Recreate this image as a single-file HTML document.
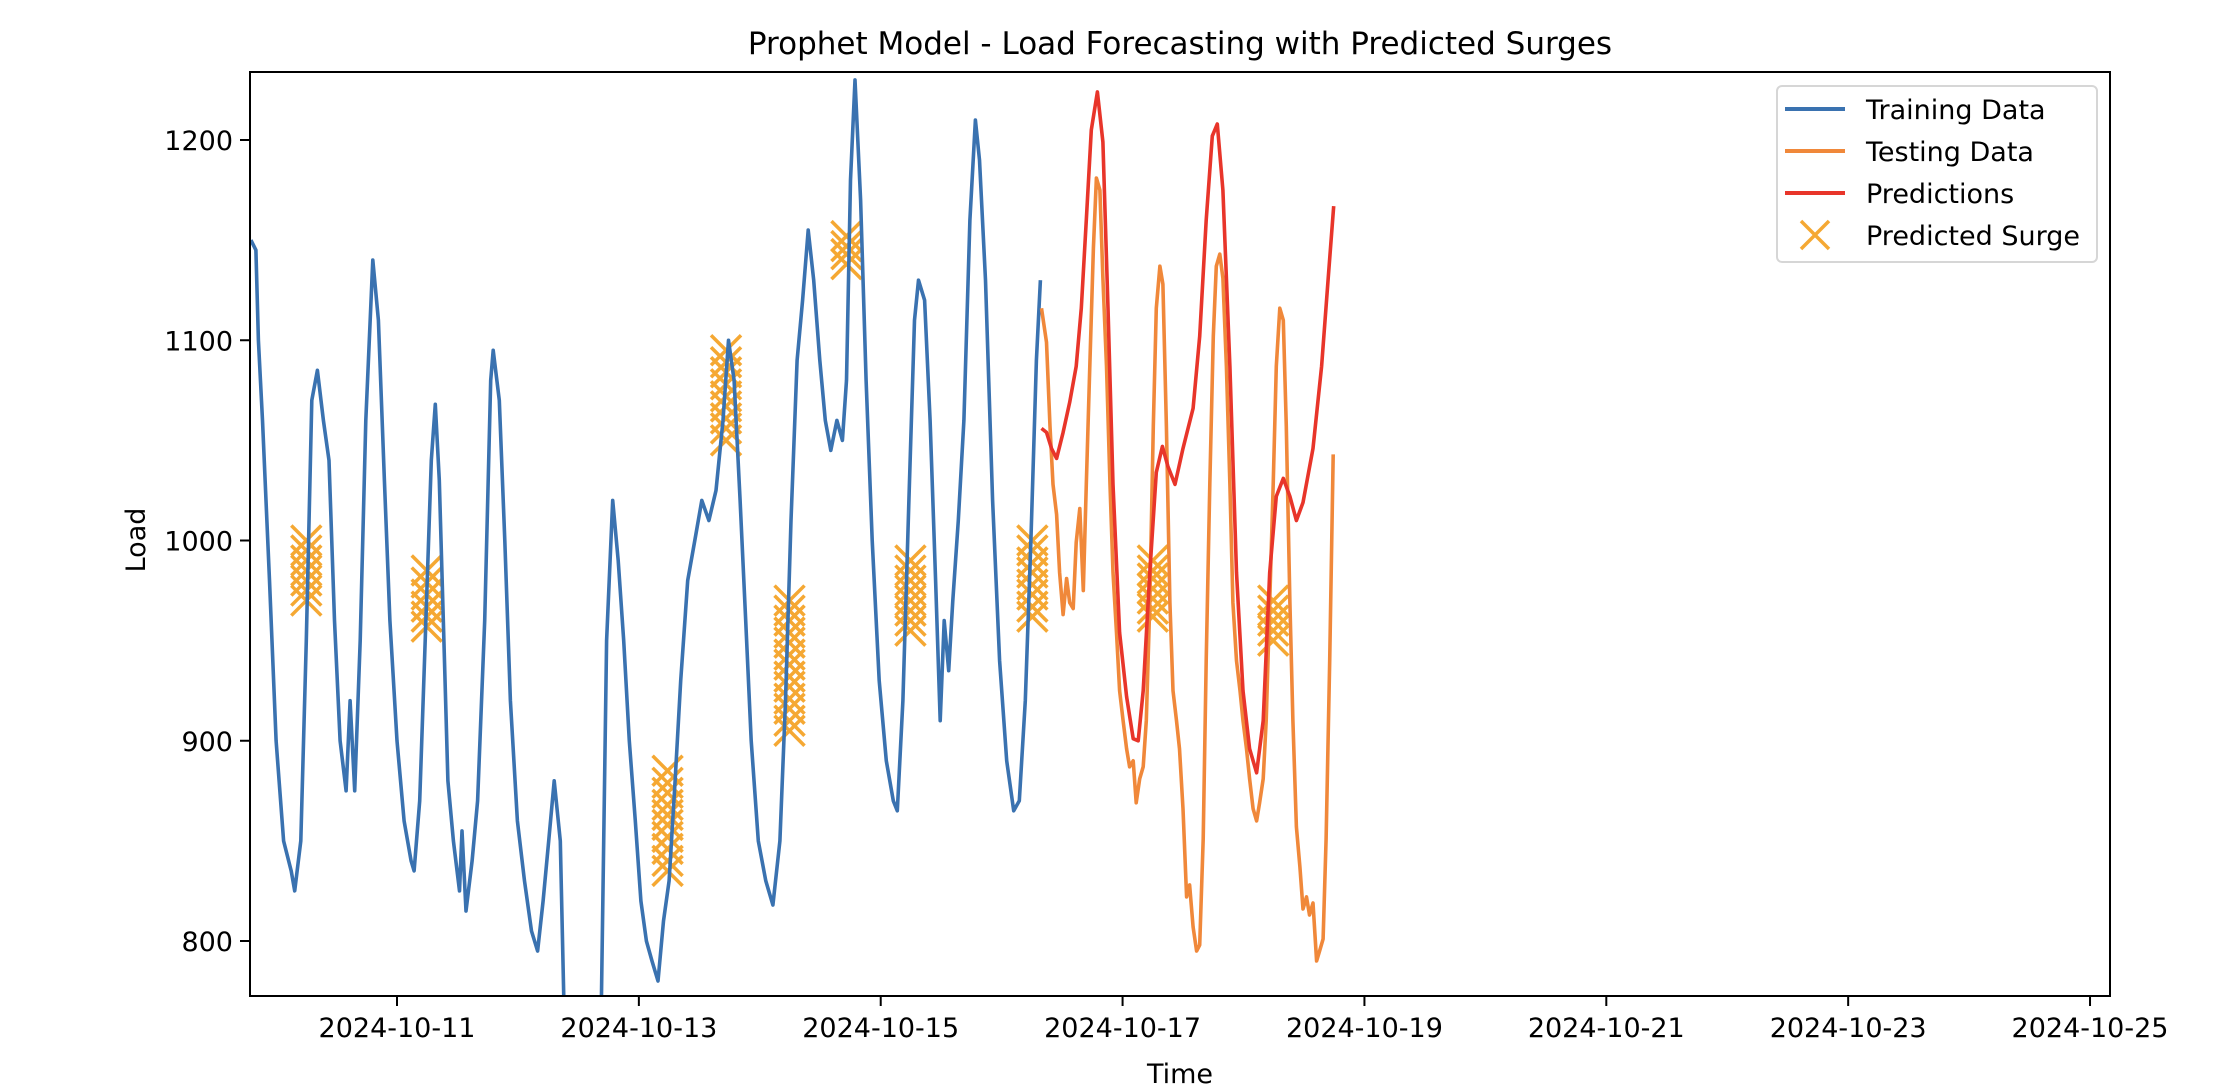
<!DOCTYPE html>
<html><head><meta charset="utf-8"><style>
html,body{margin:0;padding:0;background:#fff;}
svg text{font-family:"DejaVu Sans","Liberation Sans",sans-serif;fill:#000;}
</style></head><body>
<svg id="chart" width="2224" height="1086" viewBox="0 0 2224 1086" xmlns="http://www.w3.org/2000/svg">
<rect x="0" y="0" width="2224" height="1086" fill="#fff"/>
<text x="1180" y="54" font-size="31" text-anchor="middle">Prophet Model - Load Forecasting with Predicted Surges</text>
<defs><clipPath id="plotclip"><rect x="250" y="72" width="1860" height="924"/></clipPath></defs>
<g id="surges" clip-path="url(#plotclip)"></g>
<g id="lines" clip-path="url(#plotclip)"></g>
<g id="axes"></g>
<text x="1180" y="1083" font-size="27" text-anchor="middle">Time</text>
<text x="0" y="0" font-size="27" text-anchor="middle" transform="translate(145,540) rotate(-90)">Load</text>
<g>
<rect x="1777" y="86" width="320" height="176" rx="5" fill="#fff" stroke="#d6d6d6" stroke-width="2"/>
<line x1="1785" y1="109" x2="1845" y2="109" stroke="#3a72b0" stroke-width="4"/>
<text x="1866" y="119" font-size="27">Training Data</text>
<line x1="1785" y1="151" x2="1845" y2="151" stroke="#f0883a" stroke-width="4"/>
<text x="1866" y="161" font-size="27">Testing Data</text>
<line x1="1785" y1="193" x2="1845" y2="193" stroke="#e8352a" stroke-width="4"/>
<text x="1866" y="203" font-size="27">Predictions</text>
<path d="M1801 221 L1829 249 M1829 221 L1801 249" stroke="#f5a833" stroke-width="3.5"/>
<text x="1866" y="245" font-size="27">Predicted Surge</text>
</g>
</svg>
<script>
// hours since 2024-10-10 00:00
const trainHours = [-5,-4,-3.5,-2.7,-1.3,0,1.5,3,3.7,4.9,6,7.1,8.2,9.4,10.5,11.6,12.7,13.9,14.7,15.6,16.7,17.8,19.2,20.3,21.5,22.6,24,25.4,26.8,27.4,28.5,29.6,30.8,31.6,32.4,33.3,34.1,35.2,36.4,36.9,37.7,38.9,40,41.4,42.6,43.1,44.3,45.4,46.5,47.9,49.3,50.7,51.9,53,54.1,55.2,56.4,57.2,61,64.5,65.6,66.8,67.9,69,70.1,71.3,72.4,73.5,74.6,75.8,76.9,78,79.2,80.3,81.7,83.1,84.5,85.9,87.3,88.7,89.8,90.9,92.1,93.2,94.3,95.7,97.2,98.6,100,101.1,102.2,103.4,104.5,105.6,106.7,107.9,109,110.1,111.3,112.4,113.2,114,114.9,116,117.1,118.3,119.7,121.1,122.5,123.3,124.4,125.6,126.7,127.5,128.7,129.8,130.9,131.8,132.6,133.5,134.3,135.4,136.5,137.7,138.8,139.6,140.8,142.2,143.6,145,146.4,147.5,148.7,149.8,150.9,151.7];
const trainValues = [1150,1145,1100,1060,980,900,850,835,825,850,950,1070,1085,1060,1040,960,900,875,920,875,950,1060,1140,1110,1030,960,900,860,840,835,870,950,1040,1068,1030,950,880,850,825,855,815,840,870,960,1080,1095,1070,1000,920,860,830,805,795,820,850,880,850,760,700,760,950,1020,990,950,900,860,820,800,790,780,810,830,880,930,980,1000,1020,1010,1025,1060,1100,1080,1020,960,900,850,830,818,850,920,1010,1090,1120,1155,1130,1090,1060,1045,1060,1050,1080,1180,1230,1170,1080,1000,930,890,870,865,920,1020,1110,1130,1120,1060,980,910,960,935,970,1010,1060,1160,1210,1190,1130,1020,940,890,865,870,920,1000,1090,1130];
const testHours = [151.9,152.9,153.6,154.2,154.9,155.5,156.2,156.9,157.5,158.2,158.8,159.5,160.2,160.8,161.5,162.2,162.8,163.5,164.1,164.8,165.5,166.1,166.8,167.4,168.1,168.8,169.4,170.1,170.7,171.4,172.1,172.7,173.4,174.1,174.7,175.4,176,176.7,177.4,178,178.7,179.3,180,180.7,181.3,182,182.7,183.3,184,184.6,185.3,186,186.6,187.3,187.9,188.6,189.3,189.9,190.6,191.3,191.9,192.6,193.2,193.9,194.6,195.2,195.9,196.5,197.2,197.9,198.5,199.2,199.9,200.5,201.2,201.8,202.5,203.2,203.8,204.5,205.1,205.8,206.5,207.1,207.8,208.4,209.1,209.8];
const testValues = [1116,1099,1057,1028,1013,984,963,981,969,966,999,1016,975,1028,1087,1146,1181,1175,1131,1087,1028,984,954,925,910,896,887,890,869,881,887,910,969,1057,1116,1137,1128,1057,969,925,910,896,866,822,828,807,795,798,851,940,1028,1102,1137,1143,1131,1087,1028,969,940,925,910,896,881,866,860,869,881,910,969,1028,1087,1116,1110,1057,969,910,857,837,816,822,813,819,790,795,801,851,940,1043];
const predHours = [151.9,152.9,153.9,154.9,156.2,157.5,158.8,159.8,160.8,161.8,163,164.1,165.1,166.1,167.4,168.8,170.1,171.1,172.1,173.4,174.7,175.9,177,178.4,180,182,183.3,184.6,185.8,186.8,187.9,189.3,190.6,191.9,193.2,194.6,195.9,197.2,198.5,199.9,201.2,202.5,203.8,205.8,207.5,208.8,209.9];
const predValues = [1056,1054,1046,1041,1054,1069,1087,1116,1160,1205,1224,1199,1116,1028,954,922,901,900,925,984,1034,1047,1037,1028,1046,1066,1102,1160,1202,1208,1175,1087,984,925,896,884,910,984,1022,1031,1022,1010,1019,1046,1087,1131,1167];
const surgeHours = [6,6,6,6,6,6,6,29.9,29.9,29.9,29.9,29.9,29.9,77.7,77.7,77.7,77.7,77.7,77.7,77.7,77.7,77.7,77.7,89.3,89.3,89.3,89.3,89.3,89.3,89.3,89.3,89.3,101.9,101.9,101.9,101.9,101.9,101.9,101.9,101.9,101.9,101.9,101.9,101.9,101.9,113.2,113.2,113.2,113.2,125.9,125.9,125.9,125.9,125.9,125.9,125.9,125.9,150.1,150.1,150.1,150.1,150.1,150.1,150.1,150.1,174,174,174,174,174,174,174,197.9,197.9,197.9,197.9,197.9];
const surgeValues = [970,975,980,985,990,995,1000,957,962,967,973,979,985,835,840,846,852,858,863,868,874,879,885,1050,1056,1061,1067,1072,1078,1084,1089,1095,905,910,916,921,927,932,938,943,949,954,960,965,970,1138,1143,1147,1152,955,960,965,970,975,980,985,990,962,967,973,978,984,989,995,1000,962,966,971,976,981,985,990,950,955,960,965,970];
const yTicks = [800,900,1000,1100,1200];
const xTickHours = [24,72,120,168,216,264,312,360];
const xTickLabels = ["2024-10-11","2024-10-13","2024-10-15","2024-10-17","2024-10-19","2024-10-21","2024-10-23","2024-10-25"];

const NS = "http://www.w3.org/2000/svg";
const L=250,R=2110,T=72,B=996;
function xs(h){ return 397 + (h-24)*120.93/24; }
function ys(v){ return 941 - (v-800)*2.0025; }
function mk(tag, attrs, parent){ const e=document.createElementNS(NS,tag); for(const k in attrs) e.setAttribute(k,attrs[k]); parent.appendChild(e); return e; }

const sg=document.getElementById('surges');
for(let i=0;i<surgeHours.length;i++){
  const cx=xs(surgeHours[i]), cy=ys(surgeValues[i]);
  const p=mk('path',{d:`M${cx-15} ${cy-15} L${cx+15} ${cy+15} M${cx+15} ${cy-15} L${cx-15} ${cy+15}`,stroke:'#f5a833','stroke-width':3.5,fill:'none'},sg);
  
  
}
const lg=document.getElementById('lines');
function line(hs,vs,color,name){
  const d=hs.map((h,i)=>(i?'L':'M')+xs(h).toFixed(1)+' '+ys(vs[i]).toFixed(1)).join(' ');
  const p=mk('path',{d:d,stroke:color,'stroke-width':3.6,fill:'none','stroke-linejoin':'round'},lg);
  
  
}
line(trainHours,trainValues,'#3a72b0','training-data-line');
line(testHours,testValues,'#f0883a','testing-data-line');
line(predHours,predValues,'#e8352a','predictions-line');

const ax=document.getElementById('axes');
const fr=mk('rect',{x:L,y:T,width:R-L,height:B-T,fill:'none',stroke:'#000','stroke-width':2},ax);


yTicks.forEach(v=>{
  const y=ys(v);
  const t=mk('line',{x1:L-10,y1:y,x2:L,y2:y,stroke:'#000','stroke-width':2},ax);
  
  
  const tx=mk('text',{x:L-17,y:y+10,'font-size':27,'text-anchor':'end'},ax);
  tx.textContent=v;
  
  
});
xTickHours.forEach((h,i)=>{
  const x=xs(h);
  const t=mk('line',{x1:x,y1:B,x2:x,y2:B+10,stroke:'#000','stroke-width':2},ax);
  
  
  const tx=mk('text',{x:x,y:1037,'font-size':27,'text-anchor':'middle'},ax);
  tx.textContent=xTickLabels[i];
  
  
});
</script>
</body></html>
